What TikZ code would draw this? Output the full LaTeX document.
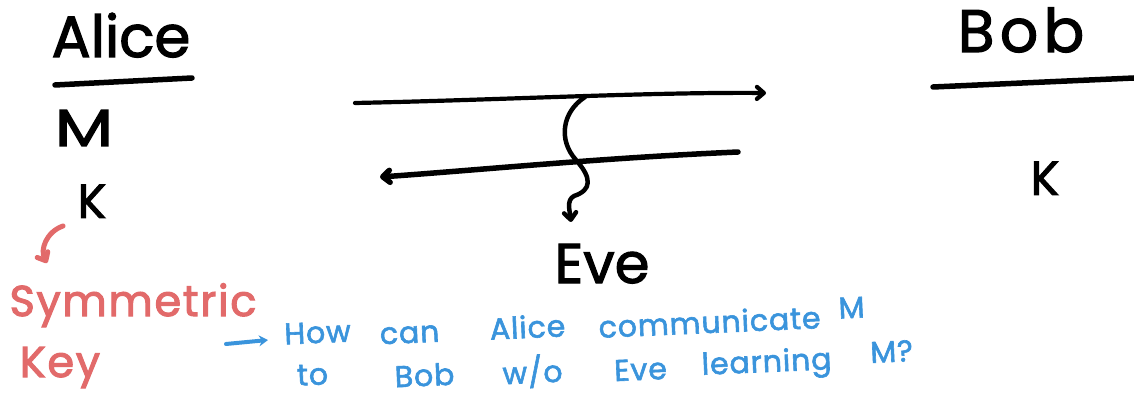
\documentclass[tikz,border=0pt]{standalone}
\usepackage{fontspec}
\setmainfont{Poppins}
\usetikzlibrary{arrows.meta}
\definecolor{inkred}{HTML}{E26A6A}
\definecolor{inkblue}{HTML}{3A94DC}
\begin{document}
\begin{tikzpicture}[x=1pt,y=-1pt,
  ink/.style={line width=5pt,line cap=round,line join=round},
  tip/.style={-{Straight Barb[length=7pt,width=12pt,line cap=round,line join=round]}},
  word/.style={inner sep=0pt,anchor=base},
  party/.style={word,font=\fontsize{58}{60}\selectfont\addfontfeature{FakeBold=2}},
  sym/.style={word,font=\fontsize{48}{50}\selectfont\addfontfeature{FakeBold=2}},
  note/.style={word,text=inkred,font=\fontsize{43}{45}\selectfont\addfontfeature{FakeBold=2.5,LetterSpace=4}},
  ask/.style={word,text=inkblue,rotate=2.5,font=\fontsize{30}{32}\selectfont\addfontfeature{FakeBold=2,LetterSpace=3}}]
\useasboundingbox (0,0) rectangle (1134,403);

% the two parties
\node[party] (alice) at (121,57) {Alice};
\node[party,font=\fontsize{60}{62}\selectfont\addfontfeature{FakeBold=2,LetterSpace=9}] (bob) at (1021,52) {Bob};
\coordinate (aliceL) at (55,85);
\coordinate (aliceR) at (192,78);
\coordinate (bobL) at (933,87);
\coordinate (bobR) at (1134,78);
\draw[ink,line width=5.5pt] (aliceL) -- (aliceR);
\draw[ink,line width=5.5pt] (bobL) -- (bobR);

% what each party holds
\node[sym,xscale=1.3,font=\fontsize{52}{54}\selectfont\addfontfeature{FakeBold=2}] (msg) at (84,146) {M};
\node[sym] (keyA) at (92,218) {K};
\node[sym] (keyB) at (1045,195) {K};

% the channel, both ways
\coordinate (fwdL) at (355,103);
\coordinate (fwdR) at (766,93);
\coordinate (bwdR) at (738,152);
\coordinate (bwdL) at (380,177);
\draw[ink,line width=4.2pt,tip] (fwdL) .. controls (500,100) and (650,92) .. (fwdR);
\draw[ink,line width=5.5pt,tip] (bwdR) .. controls (600,158) and (480,170) .. (bwdL);

% the eavesdropper taps the line
\node[party,font=\fontsize{56}{58}\selectfont\addfontfeature{FakeBold=2}] (eve) at (602,283) {Eve};
\coordinate (tap) at (585,97);
\coordinate (eveIn) at (571,222);
\draw[ink,line width=4.5pt,tip] (tap) .. controls (562,112) and (558,140) .. (576,160)
  .. controls (592,178) and (592,190) .. (574,196)
  .. controls (566,200) and (570,212) .. (eveIn);

% remark on the key
\coordinate (keyNoteTop) at (63,226);
\coordinate (keyNoteTip) at (47,263);
\draw[ink,inkred,line width=5pt,tip] (keyNoteTop) .. controls (46,232) and (40,250) .. (keyNoteTip);
\node[note] (symm) at (133,316) {Symmetric};
\node[note] (keyword) at (60,377) {Key};

% the question
\coordinate (qFrom) at (226,344);
\coordinate (qTo) at (268,340);
\draw[ink,inkblue,line width=4pt,-{Stealth[length=9pt,width=11pt]}] (qFrom) -- (qTo);
\node[ask] (w1) at (318,343) {How};
\node[ask] (w2) at (410,343) {can};
\node[ask] (w3) at (528,338) {Alice};
\node[ask] (w4) at (710,333) {communicate};
\node[ask] (w5) at (852,318) {M};
\node[ask] (w6) at (313,385) {to};
\node[ask] (w7) at (425,386) {Bob};
\node[ask] (w8) at (533,383) {w/o};
\node[ask] (w9) at (641,380) {Eve};
\node[ask] (w10) at (767,372) {learning};
\node[ask] (w11) at (892,362) {M?};
\end{tikzpicture}
\end{document}
